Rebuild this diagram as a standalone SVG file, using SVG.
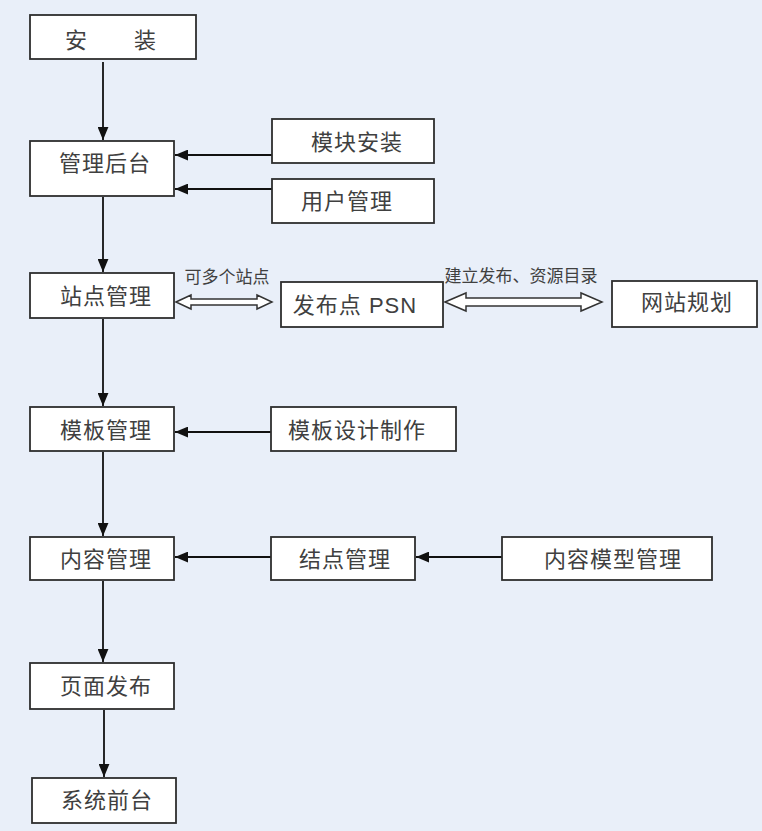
<svg xmlns="http://www.w3.org/2000/svg" width="762" height="831" viewBox="0 0 762 831">
<defs>
<style>
.box{fill:#ffffff;stroke:#2e2e2e;stroke-width:1.8}
.t{font-family:"Liberation Sans","Noto Sans CJK SC",sans-serif;font-size:22px;letter-spacing:1px;fill:#404040;text-anchor:middle;dominant-baseline:central}
.s{font-family:"Liberation Sans","Noto Sans CJK SC",sans-serif;font-size:17px;fill:#404040;text-anchor:middle;dominant-baseline:central}
.ln{stroke:#111;stroke-width:1.8;fill:none;marker-end:url(#ah)}
.dbl{fill:#ffffff;stroke:#333;stroke-width:1.5;stroke-linejoin:miter}
</style>
<marker id="ah" viewBox="0 0 12 10" refX="12" refY="5" markerWidth="13" markerHeight="11" markerUnits="userSpaceOnUse" orient="auto">
<path d="M0,0 L12,5 L0,10 Z" fill="#111"/>
</marker>
</defs>
<rect width="762" height="831" fill="#e9eff9"/>
<g id="connectors">
<line class="ln" x1="103" y1="62" x2="103" y2="140"/>
<line class="ln" x1="103" y1="197" x2="103" y2="272"/>
<line class="ln" x1="103" y1="319" x2="103" y2="406"/>
<line class="ln" x1="103" y1="452" x2="103" y2="536"/>
<line class="ln" x1="103" y1="581" x2="103" y2="662"/>
<line class="ln" x1="104" y1="710" x2="104" y2="777"/>
<line class="ln" x1="272" y1="155" x2="175" y2="155"/>
<line class="ln" x1="272" y1="189" x2="175" y2="189"/>
<line class="ln" x1="271" y1="432" x2="175" y2="432"/>
<line class="ln" x1="271" y1="557" x2="175" y2="557"/>
<line class="ln" x1="502" y1="557" x2="416" y2="557"/>
<polygon class="dbl" points="176,302 191,295 191,299 257,299 257,295 272,302 257,309 257,305 191,305 191,309"/>
<polygon class="dbl" points="445,302 466,293 466,298 581,298 581,293 602,302 581,311 581,306 466,306 466,311"/>
<text class="s" x="227" y="277">可多个站点</text>
<text class="s" x="521" y="276">建立发布、资源目录</text>
</g>
<g id="n-install"><rect class="box" x="30" y="15" width="166" height="44"/><text class="t" x="111" y="40" xml:space="preserve">安　　装</text></g>
<g id="n-admin"><rect class="box" x="30" y="141" width="144" height="55"/><text class="t" x="105" y="163">管理后台</text></g>
<g id="n-module"><rect class="box" x="272" y="119" width="162" height="44"/><text class="t" x="357" y="142">模块安装</text></g>
<g id="n-user"><rect class="box" x="272" y="179" width="162" height="44"/><text class="t" x="347" y="201">用户管理</text></g>
<g id="n-site"><rect class="box" x="30" y="273" width="144" height="45"/><text class="t" x="106" y="296">站点管理</text></g>
<g id="n-psn"><rect class="box" x="281" y="282" width="162" height="45"/><text class="t" x="355" y="305">发布点 PSN</text></g>
<g id="n-plan"><rect class="box" x="612" y="281" width="145" height="46"/><text class="t" x="687" y="302">网站规划</text></g>
<g id="n-tpl"><rect class="box" x="30" y="407" width="144" height="44"/><text class="t" x="106" y="430">模板管理</text></g>
<g id="n-tpldesign"><rect class="box" x="271" y="407" width="185" height="44"/><text class="t" x="357" y="430">模板设计制作</text></g>
<g id="n-content"><rect class="box" x="30" y="537" width="144" height="43"/><text class="t" x="106" y="559">内容管理</text></g>
<g id="n-node"><rect class="box" x="271" y="537" width="144" height="43"/><text class="t" x="345" y="559">结点管理</text></g>
<g id="n-model"><rect class="box" x="502" y="537" width="210" height="43"/><text class="t" x="613" y="559">内容模型管理</text></g>
<g id="n-publish"><rect class="box" x="30" y="663" width="144" height="46"/><text class="t" x="106" y="686">页面发布</text></g>
<g id="n-front"><rect class="box" x="32" y="778" width="144" height="45"/><text class="t" x="107" y="800">系统前台</text></g>
</svg>
